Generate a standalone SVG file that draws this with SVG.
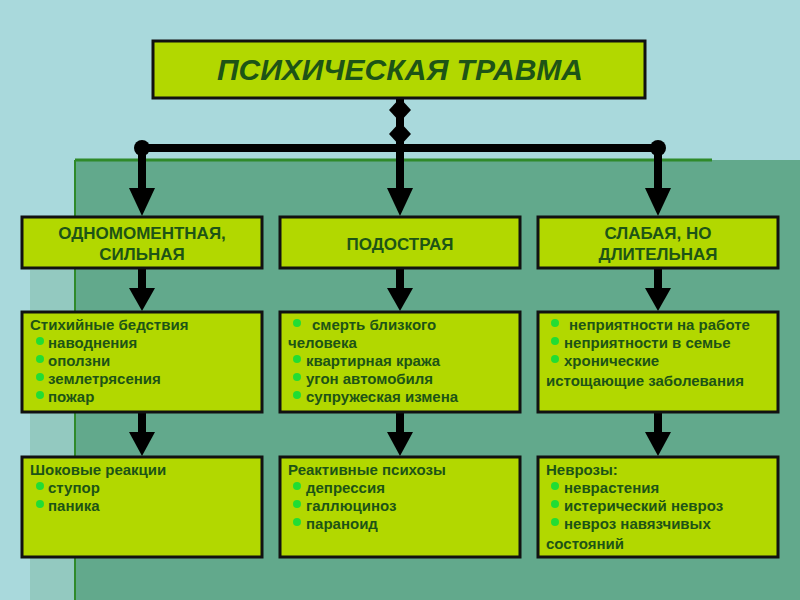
<svg xmlns="http://www.w3.org/2000/svg" width="800" height="600" viewBox="0 0 800 600">
<defs>
<style>
.box{fill:#b2d800;stroke:#111;stroke-width:3}
.t{font-family:"Liberation Sans",Arial,sans-serif;font-weight:bold;fill:#1d5416}
.h{font-size:17px;text-anchor:middle}
.s{font-size:15px}
.b{fill:#22dd33}
.ln{stroke:#000;stroke-width:8;fill:none}
</style>
<marker id="ah" viewBox="0 0 10 10" refX="5" refY="10" markerWidth="3.4" markerHeight="4" markerUnits="strokeWidth" orient="auto-start-reverse"><path d="M0,0 L10,0 L5,10 Z" transform="rotate(-90 5 5)"/></marker>
</defs>
<rect width="800" height="600" fill="#a9d9dc"/>
<rect x="75" y="160" width="725" height="440" fill="#62a98c"/>
<rect x="30" y="270" width="45" height="330" fill="#93c9c0"/>
<line x1="75" y1="160" x2="712" y2="160" stroke="#2f8a2a" stroke-width="3"/>
<line x1="75" y1="160" x2="75" y2="600" stroke="#2f8a2a" stroke-width="2"/>
<g id="connectors">
<line class="ln" x1="400" y1="98" x2="400" y2="148"/>
<path d="M400,98 L411,110 L400,122 L389,110 Z"/>
<path d="M400,122 L411,134 L400,146 L389,134 Z"/>
<line class="ln" x1="142" y1="148" x2="658" y2="148"/>
<circle cx="142" cy="148" r="8"/><circle cx="658" cy="148" r="8"/>
<g fill="#000">
<line class="ln" x1="142" y1="148" x2="142" y2="190"/><path d="M129,188 L155,188 L142,216 Z"/>
<line class="ln" x1="400" y1="148" x2="400" y2="190"/><path d="M387,188 L413,188 L400,216 Z"/>
<line class="ln" x1="658" y1="148" x2="658" y2="190"/><path d="M645,188 L671,188 L658,216 Z"/>
<line class="ln" x1="142" y1="268" x2="142" y2="290"/><path d="M129,288 L155,288 L142,311 Z"/>
<line class="ln" x1="400" y1="268" x2="400" y2="290"/><path d="M387,288 L413,288 L400,311 Z"/>
<line class="ln" x1="658" y1="268" x2="658" y2="290"/><path d="M645,288 L671,288 L658,311 Z"/>
<line class="ln" x1="142" y1="412" x2="142" y2="434"/><path d="M129,432 L155,432 L142,456 Z"/>
<line class="ln" x1="400" y1="412" x2="400" y2="434"/><path d="M387,432 L413,432 L400,456 Z"/>
<line class="ln" x1="658" y1="412" x2="658" y2="434"/><path d="M645,432 L671,432 L658,456 Z"/>
</g>
</g>
<g id="title"><rect class="box" x="153" y="41" width="492" height="57"/>
<text class="t" x="400" y="80" font-size="30" font-style="italic" text-anchor="middle">ПСИХИЧЕСКАЯ ТРАВМА</text></g>
<g id="n1"><rect class="box" x="22" y="217" width="240" height="51"/>
<text class="t h" x="142" y="239">ОДНОМОМЕНТНАЯ,</text><text class="t h" x="142" y="260">СИЛЬНАЯ</text></g>
<g id="n2"><rect class="box" x="280" y="217" width="240" height="51"/>
<text class="t h" x="400" y="250">ПОДОСТРАЯ</text></g>
<g id="n3"><rect class="box" x="538" y="217" width="240" height="51"/>
<text class="t h" x="658" y="239">СЛАБАЯ, НО</text><text class="t h" x="658" y="260">ДЛИТЕЛЬНАЯ</text></g>
<g id="n4"><rect class="box" x="22" y="312" width="240" height="100"/>
<text class="t s" x="30" y="330">Стихийные бедствия</text>
<circle class="b" cx="40" cy="341" r="4"/><text class="t s" x="48" y="348">наводнения</text>
<circle class="b" cx="40" cy="359" r="4"/><text class="t s" x="48" y="366">оползни</text>
<circle class="b" cx="40" cy="377" r="4"/><text class="t s" x="48" y="384">землетрясения</text>
<circle class="b" cx="40" cy="395" r="4"/><text class="t s" x="48" y="402">пожар</text></g>
<g id="n5"><rect class="box" x="280" y="312" width="240" height="100"/>
<circle class="b" cx="297" cy="323" r="4"/><text class="t s" x="312" y="330">смерть близкого</text>
<text class="t s" x="288" y="348">человека</text>
<circle class="b" cx="297" cy="359" r="4"/><text class="t s" x="306" y="366">квартирная кража</text>
<circle class="b" cx="297" cy="377" r="4"/><text class="t s" x="306" y="384">угон автомобиля</text>
<circle class="b" cx="297" cy="395" r="4"/><text class="t s" x="306" y="402">супружеская измена</text></g>
<g id="n6"><rect class="box" x="538" y="312" width="240" height="100"/>
<circle class="b" cx="555" cy="323" r="4"/><text class="t s" x="569" y="330">неприятности на работе</text>
<circle class="b" cx="555" cy="341" r="4"/><text class="t s" x="564" y="348">неприятности в семье</text>
<circle class="b" cx="555" cy="359" r="4"/><text class="t s" x="564" y="366">хронические</text>
<text class="t s" x="546" y="386">истощающие заболевания</text></g>
<g id="n7"><rect class="box" x="22" y="457" width="240" height="100"/>
<text class="t s" x="30" y="475">Шоковые реакции</text>
<circle class="b" cx="40" cy="486" r="4"/><text class="t s" x="48" y="493">ступор</text>
<circle class="b" cx="40" cy="504" r="4"/><text class="t s" x="48" y="511">паника</text></g>
<g id="n8"><rect class="box" x="280" y="457" width="240" height="100"/>
<text class="t s" x="288" y="475">Реактивные психозы</text>
<circle class="b" cx="297" cy="486" r="4"/><text class="t s" x="306" y="493">депрессия</text>
<circle class="b" cx="297" cy="504" r="4"/><text class="t s" x="306" y="511">галлюциноз</text>
<circle class="b" cx="297" cy="522" r="4"/><text class="t s" x="306" y="529">параноид</text></g>
<g id="n9"><rect class="box" x="538" y="457" width="240" height="100"/>
<text class="t s" x="546" y="475">Неврозы:</text>
<circle class="b" cx="555" cy="486" r="4"/><text class="t s" x="564" y="493">неврастения</text>
<circle class="b" cx="555" cy="504" r="4"/><text class="t s" x="564" y="511">истерический невроз</text>
<circle class="b" cx="555" cy="522" r="4"/><text class="t s" x="564" y="529">невроз навязчивых</text>
<text class="t s" x="546" y="549">состояний</text></g>
</svg>
